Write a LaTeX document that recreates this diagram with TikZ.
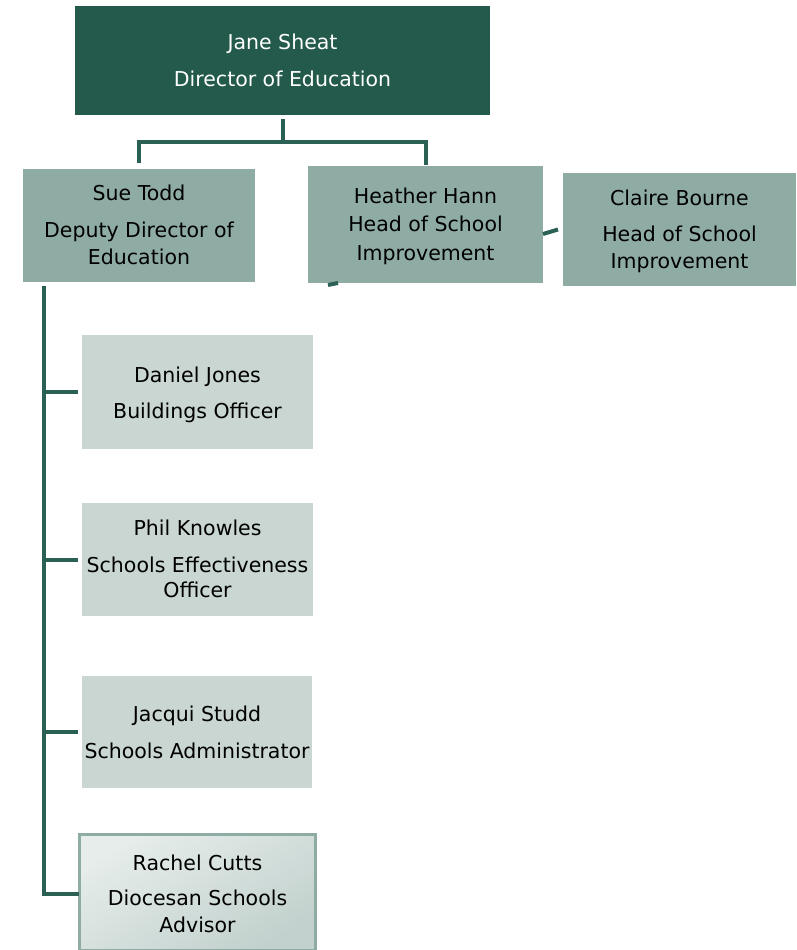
\documentclass[tikz,border=0pt]{standalone}
\usepackage{fontspec}
\setmainfont{DejaVu Sans}
\definecolor{darkg}{HTML}{235A4B}
\definecolor{lineg}{HTML}{2B6154}
\definecolor{midg}{HTML}{8FACA4}
\definecolor{lightg}{HTML}{C9D6D2}
\definecolor{gradA}{HTML}{E6EDEB}
\definecolor{gradB}{HTML}{C2D1CD}
\begin{document}
\begin{tikzpicture}[x=1pt,y=-1pt,
  box/.style={rectangle,inner sep=0pt,outer sep=0pt},
  topbox/.style={box,fill=darkg},
  midbox/.style={box,fill=midg},
  lowbox/.style={box,fill=lightg},
  gradbox/.style={box,draw=midg,line width=3pt,top color=gradA,bottom color=gradB,shading angle=30},
  txt/.style={anchor=base,inner sep=0pt,font=\fontsize{20.5}{24}\selectfont},
  wtxt/.style={txt,text=white},
  conn/.style={draw=lineg,line width=4pt}]
\useasboundingbox (0,0) rectangle (797,950);
% boxes
\node[topbox,minimum width=415pt,minimum height=109pt] (jane) at (282.5,60.5) {};
\node[midbox,minimum width=232pt,minimum height=113pt] (sue) at (139,225.5) {};
\node[midbox,minimum width=235pt,minimum height=117pt] (heather) at (425.5,224.5) {};
\node[midbox,minimum width=233pt,minimum height=113pt] (claire) at (679.5,229.5) {};
\node[lowbox,minimum width=231pt,minimum height=114pt] (daniel) at (197.5,392) {};
\node[lowbox,minimum width=231pt,minimum height=113pt] (phil) at (197.5,559.5) {};
\node[lowbox,minimum width=230pt,minimum height=112pt] (jacqui) at (197,732) {};
\node[gradbox,minimum width=236pt,minimum height=116pt] (rachel) at (197.5,892) {};
% texts
\node[wtxt] (t1a) at (282.5,50) {Jane Sheat};
\node[wtxt] (t1b) at (282.5,86) {Director of Education};
\node[txt] (t2a) at (139,200) {Sue Todd};
\node[txt] (t2b) at (139,237) {Deputy Director of};
\node[txt] (t2c) at (139,264) {Education};
\node[txt] (t3a) at (425.5,203) {Heather Hann};
\node[txt] (t3b) at (425.5,231) {Head of School};
\node[txt] (t3c) at (425.5,260) {Improvement};
\node[txt] (t4a) at (679.5,205) {Claire Bourne};
\node[txt] (t4b) at (679.5,241) {Head of School};
\node[txt] (t4c) at (679.5,268) {Improvement};
\node[txt] (t5a) at (197.5,382) {Daniel Jones};
\node[txt] (t5b) at (197.5,418) {Buildings Officer};
\node[txt] (t6a) at (197.5,535) {Phil Knowles};
\node[txt] (t6b) at (197.5,572) {Schools Effectiveness};
\node[txt] (t6c) at (197.5,597) {Officer};
\node[txt] (t7a) at (197,721) {Jacqui Studd};
\node[txt] (t7b) at (197,758) {Schools Administrator};
\node[txt] (t8a) at (197.5,870) {Rachel Cutts};
\node[txt] (t8b) at (197.5,905) {Diocesan Schools};
\node[txt] (t8c) at (197.5,932) {Advisor};
% connectors
\coordinate (bar) at (282.5,142);
\draw[conn] ([yshift=-4pt]jane.south) -- (bar);
\draw[conn] ([yshift=6pt]sue.north) |- (heather.north |- bar) -- ([yshift=1pt]heather.north);
\coordinate (spinetop) at (44,286);
\coordinate (spinebot) at (44,894);
\draw[conn] (spinetop) -- (spinebot) -- ([xshift=-1pt]rachel.west |- spinebot);
\draw[conn] (spinetop |- daniel.west) -- ([xshift=-4pt]daniel.west);
\draw[conn] (spinetop |- phil.west) -- ([xshift=-4pt]phil.west);
\draw[conn] (spinetop |- jacqui.west) -- ([xshift=-4pt]jacqui.west);
\draw[conn] ([yshift=-9.5pt]heather.east) -- ([xshift=-5pt]claire.west);
\coordinate (hstub) at ([xshift=20pt,yshift=-2pt]heather.south west);
\draw[conn] (hstub) -- ++(10,-2);
\end{tikzpicture}
\end{document}
